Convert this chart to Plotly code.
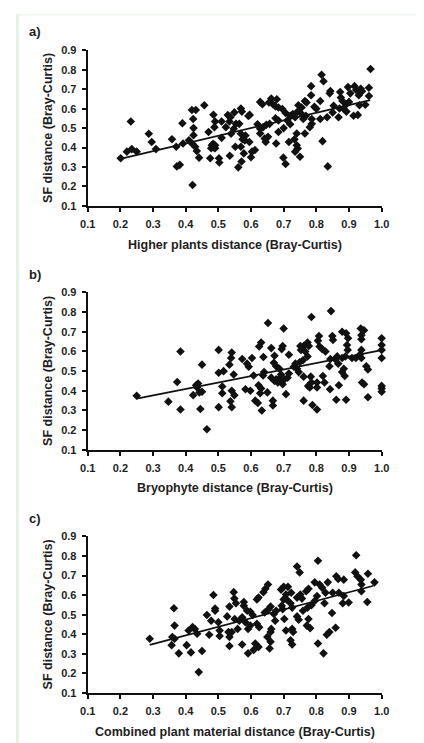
import plotly.graph_objects as go

# ---------------- data ----------------
x_tick_vals = [0.1, 0.2, 0.3, 0.4, 0.5, 0.6, 0.7, 0.8, 0.9, 1.0]
x_tick_text = ["0.1", "0.2", "0.3", "0.4", "0.5", "0.6", "0.7", "0.8", "0.9", "1.0"]
y_tick_vals = [0.1, 0.2, 0.3, 0.4, 0.5, 0.6, 0.7, 0.8, 0.9]
y_tick_text = ["0.1", "0.2", "0.3", "0.4", "0.5", "0.6", "0.7", "0.8", "0.9"]

panel_labels = ["a)", "b)", "c)"]
x_titles = ["Higher plants distance (Bray-Curtis)",
            "Bryophyte distance (Bray-Curtis)",
            "Combined plant material distance (Bray-Curtis)"]
y_title = "SF distance (Bray-Curtis)"

# Panel a: higher plants
a_x = [0.201, 0.220, 0.232, 0.235, 0.250, 0.287, 0.296, 0.309, 0.358, 0.371, 0.373, 0.382, 0.390, 0.392,
       0.410, 0.421, 0.419, 0.431, 0.423, 0.424, 0.424, 0.421, 0.429, 0.434, 0.441, 0.457, 0.470, 0.485,
       0.490, 0.488, 0.475, 0.480, 0.478, 0.490, 0.490, 0.484, 0.486, 0.502, 0.503, 0.510, 0.510, 0.523,
       0.534, 0.529, 0.537, 0.535, 0.539, 0.547, 0.549, 0.554, 0.552, 0.561, 0.569, 0.572, 0.564, 0.569,
       0.574, 0.569, 0.578, 0.571, 0.581, 0.583, 0.595, 0.592, 0.600, 0.612,
       0.966, 0.961, 0.961, 0.816, 0.822, 0.784, 0.843, 0.841, 0.873, 0.897, 0.917, 0.922, 0.936, 0.930,
       0.904, 0.875, 0.784, 0.765, 0.770, 0.812, 0.794, 0.755, 0.745, 0.743, 0.728, 0.720, 0.706, 0.696,
       0.684, 0.679, 0.662, 0.655, 0.628, 0.635, 0.667, 0.675, 0.596, 0.675, 0.684, 0.711, 0.735, 0.755,
       0.768, 0.786, 0.812, 0.833, 0.853, 0.871, 0.883, 0.892, 0.900, 0.914, 0.927, 0.932, 0.868, 0.892,
       0.628, 0.637, 0.647, 0.657, 0.628, 0.642, 0.645, 0.652, 0.677, 0.684, 0.699, 0.706, 0.716, 0.733,
       0.740, 0.740, 0.743, 0.750, 0.735, 0.765, 0.780, 0.786, 0.819, 0.835, 0.603,
       0.760, 0.620, 0.700, 0.720, 0.800, 0.850, 0.880, 0.950, 0.940]
a_y = [0.345, 0.379, 0.534, 0.392, 0.379, 0.471, 0.429, 0.392, 0.443, 0.404, 0.303, 0.311, 0.525, 0.421,
       0.438, 0.207, 0.593, 0.593, 0.547, 0.500, 0.463, 0.418, 0.404, 0.382, 0.348, 0.618, 0.480, 0.569,
       0.534, 0.505, 0.345, 0.412, 0.396, 0.396, 0.412, 0.420, 0.400, 0.345, 0.323, 0.534, 0.450, 0.505,
       0.534, 0.567, 0.556, 0.358, 0.471, 0.497, 0.581, 0.522, 0.404, 0.298, 0.601, 0.585, 0.522, 0.471,
       0.443, 0.404, 0.370, 0.328, 0.437, 0.462, 0.429, 0.563, 0.350, 0.387,
       0.804, 0.708, 0.665, 0.775, 0.741, 0.716, 0.691, 0.679, 0.686, 0.711, 0.716, 0.696, 0.703, 0.669,
       0.679, 0.657, 0.669, 0.640, 0.632, 0.640, 0.610, 0.606, 0.618, 0.585, 0.573, 0.564, 0.578, 0.598,
       0.606, 0.649, 0.652, 0.632, 0.635, 0.623, 0.623, 0.612, 0.568, 0.551, 0.539, 0.539, 0.556, 0.573,
       0.564, 0.547, 0.547, 0.556, 0.615, 0.601, 0.601, 0.623, 0.635, 0.564, 0.568, 0.618, 0.556, 0.585,
       0.497, 0.505, 0.517, 0.522, 0.472, 0.446, 0.429, 0.455, 0.421, 0.480, 0.348, 0.315, 0.429, 0.443,
       0.472, 0.412, 0.395, 0.353, 0.379, 0.472, 0.505, 0.522, 0.433, 0.303, 0.379,
       0.547, 0.520, 0.500, 0.520, 0.600, 0.580, 0.640, 0.620, 0.690]
trend_a_x = [0.200, 0.965]
trend_a_y = [0.342, 0.644]

# Panel b: bryophytes
b_x = [0.250, 0.347, 0.384, 0.374, 0.384, 0.423, 0.432, 0.438, 0.435, 0.442, 0.450, 0.450, 0.445, 0.465,
       0.501, 0.501, 0.516, 0.512, 0.512, 0.501, 0.534, 0.539, 0.541, 0.547, 0.537, 0.541, 0.541, 0.549,
       0.845, 0.785, 0.652, 0.700, 0.936, 0.946, 0.938, 0.938, 1.000, 1.000, 1.000, 1.000, 1.000, 1.000,
       1.000, 0.879, 0.891, 0.897, 0.894, 0.896, 0.849, 0.851, 0.808, 0.805, 0.810, 0.818, 0.828, 0.773,
       0.777, 0.761, 0.751, 0.753, 0.766, 0.773, 0.759, 0.749, 0.736, 0.731, 0.741, 0.716, 0.697, 0.694,
       0.672, 0.662, 0.631, 0.625, 0.638, 0.603, 0.573, 0.588, 0.593, 0.583, 0.598, 0.608, 0.640, 0.637,
       0.623, 0.631, 0.628, 0.650, 0.613, 0.621, 0.633, 0.667, 0.667, 0.670, 0.677, 0.687, 0.662, 0.672,
       0.677, 0.682, 0.687, 0.692, 0.697, 0.702, 0.712, 0.716, 0.707, 0.692, 0.746, 0.761, 0.783, 0.785,
       0.775, 0.780, 0.761, 0.788, 0.802, 0.802, 0.802, 0.820, 0.825, 0.842, 0.857, 0.864, 0.867, 0.869,
       0.879, 0.884, 0.887, 0.861, 0.891, 0.879, 0.889, 0.843, 0.840, 0.938, 0.938, 0.940, 0.946, 0.953,
       0.958, 0.958, 0.909, 0.921, 0.933]
b_y = [0.375, 0.345, 0.600, 0.445, 0.305, 0.378, 0.428, 0.437, 0.417, 0.392, 0.395, 0.533, 0.308, 0.205,
       0.608, 0.492, 0.500, 0.422, 0.388, 0.317, 0.533, 0.567, 0.595, 0.483, 0.347, 0.317, 0.400, 0.378,
       0.805, 0.775, 0.745, 0.717, 0.717, 0.708, 0.683, 0.662, 0.667, 0.633, 0.608, 0.567, 0.425, 0.412,
       0.395, 0.700, 0.692, 0.667, 0.633, 0.608, 0.678, 0.658, 0.678, 0.655, 0.625, 0.612, 0.600, 0.645,
       0.628, 0.628, 0.628, 0.608, 0.600, 0.575, 0.555, 0.545, 0.538, 0.522, 0.512, 0.583, 0.628, 0.612,
       0.578, 0.617, 0.645, 0.625, 0.572, 0.567, 0.562, 0.538, 0.522, 0.408, 0.400, 0.478, 0.495, 0.478,
       0.428, 0.412, 0.388, 0.392, 0.350, 0.338, 0.300, 0.350, 0.325, 0.542, 0.525, 0.512, 0.467, 0.450,
       0.458, 0.442, 0.462, 0.450, 0.433, 0.458, 0.467, 0.488, 0.383, 0.483, 0.495, 0.472, 0.472, 0.442,
       0.425, 0.417, 0.350, 0.328, 0.305, 0.442, 0.417, 0.475, 0.442, 0.408, 0.562, 0.575, 0.538, 0.428,
       0.495, 0.512, 0.475, 0.355, 0.355, 0.567, 0.575, 0.562, 0.525, 0.608, 0.567, 0.442, 0.433, 0.525,
       0.508, 0.367, 0.567, 0.567, 0.583]
trend_b_x = [0.250, 1.000]
trend_b_y = [0.360, 0.607]

# Panel c: combined plant material
c_x = [0.290, 0.357, 0.364, 0.366, 0.359, 0.366, 0.379, 0.403, 0.409, 0.416, 0.421, 0.428, 0.435, 0.440,
       0.450, 0.465, 0.472, 0.478, 0.485, 0.490, 0.490, 0.500, 0.504, 0.504, 0.527, 0.534, 0.531, 0.534,
       0.534, 0.541, 0.547, 0.549, 0.550, 0.554,
       0.922, 0.805, 0.741, 0.749, 0.919, 0.926, 0.958, 0.978, 0.936, 0.938, 0.938, 0.956, 0.861, 0.867,
       0.884, 0.835, 0.818, 0.795, 0.810, 0.776, 0.769, 0.751, 0.741, 0.756, 0.723, 0.713, 0.700, 0.692,
       0.707, 0.709, 0.700, 0.694, 0.697, 0.721, 0.726, 0.652, 0.644, 0.638, 0.623, 0.618, 0.578, 0.578,
       0.588, 0.598, 0.605, 0.573, 0.564, 0.583, 0.598, 0.591, 0.618, 0.625, 0.642, 0.654, 0.660, 0.670,
       0.674, 0.677, 0.662, 0.660, 0.650, 0.660, 0.657, 0.613, 0.623, 0.608, 0.591, 0.573, 0.707, 0.726,
       0.729, 0.721, 0.726, 0.741, 0.746, 0.759, 0.773, 0.776, 0.771, 0.781, 0.785, 0.795, 0.802, 0.828,
       0.825, 0.850, 0.869, 0.884, 0.881, 0.899, 0.848, 0.840, 0.832, 0.859, 0.805, 0.822, 0.702, 0.559]
c_y = [0.377, 0.344, 0.533, 0.444, 0.386, 0.377, 0.302, 0.344, 0.419, 0.307, 0.436, 0.427, 0.402, 0.206,
       0.314, 0.498, 0.397, 0.469, 0.600, 0.531, 0.520, 0.461, 0.419, 0.391, 0.491, 0.541, 0.411, 0.386,
       0.340, 0.411, 0.615, 0.582, 0.478, 0.558,
       0.804, 0.776, 0.746, 0.716, 0.716, 0.696, 0.709, 0.665, 0.679, 0.654, 0.620, 0.565, 0.696, 0.682,
       0.679, 0.665, 0.637, 0.665, 0.654, 0.632, 0.620, 0.603, 0.587, 0.582, 0.612, 0.642, 0.642, 0.628,
       0.603, 0.578, 0.578, 0.545, 0.528, 0.558, 0.536, 0.654, 0.632, 0.615, 0.587, 0.578, 0.565, 0.545,
       0.520, 0.515, 0.498, 0.486, 0.469, 0.461, 0.444, 0.427, 0.453, 0.436, 0.511, 0.528, 0.541, 0.503,
       0.469, 0.520, 0.427, 0.411, 0.386, 0.361, 0.327, 0.352, 0.335, 0.319, 0.302, 0.347, 0.419, 0.427,
       0.411, 0.369, 0.347, 0.491, 0.474, 0.520, 0.536, 0.478, 0.444, 0.431, 0.548, 0.570, 0.595, 0.612,
       0.558, 0.612, 0.612, 0.595, 0.558, 0.562, 0.508, 0.411, 0.397, 0.433, 0.352, 0.302, 0.478, 0.427]
trend_c_x = [0.290, 0.975]
trend_c_y = [0.345, 0.648]

# ---------------- figure ----------------
W, H = 424, 743
INK = "#111111"
TXT = "#1e1e1e"
FONT = "Liberation Sans, Arial, sans-serif"

panels = [
    (a_x, a_y, trend_a_x, trend_a_y, (37, 195), 18, 235),
    (b_x, b_y, trend_b_x, trend_b_y, (283, 443), 265, 482),
    (c_x, c_y, trend_c_x, trend_c_y, (531, 690), 513, 730),
]
x_px = (74.5, 380.0)

fig = go.Figure()
annotations = []
layout = {}
for i, (px, py, tx, ty, (ytop, ybot), lab_y, xt_y) in enumerate(panels):
    n = "" if i == 0 else str(i + 1)
    xa, ya = "x" + n, "y" + n
    fig.add_trace(go.Scatter(x=px, y=py, mode="markers", xaxis=xa, yaxis=ya,
                             marker=dict(symbol="diamond", size=6.6, color=INK,
                                         line=dict(width=0)),
                             cliponaxis=False, showlegend=False, hoverinfo="skip"))
    fig.add_trace(go.Scatter(x=tx, y=ty, mode="lines", xaxis=xa, yaxis=ya,
                             line=dict(color=INK, width=1.7),
                             showlegend=False, hoverinfo="skip"))
    common = dict(showline=True, linewidth=2, linecolor=INK, ticks="outside", ticklen=4,
                  tickwidth=1.5, tickcolor=INK, showgrid=False, zeroline=False,
                  tickfont=dict(family=FONT, size=11, color=TXT, weight="bold"))
    layout["xaxis" + n] = dict(common, domain=[x_px[0] / W, x_px[1] / W], range=[0.1, 1.0],
                               tickvals=x_tick_vals, ticktext=x_tick_text, anchor=ya,
                               ticklabelstandoff=3)
    layout["yaxis" + n] = dict(common, domain=[1 - ybot / H, 1 - ytop / H], range=[0.1, 0.9],
                               tickvals=y_tick_vals, ticktext=y_tick_text, anchor=xa,
                               ticklabelstandoff=3)
    annotations.append(dict(text=panel_labels[i], x=11 / W, y=1 - lab_y / H, xref="paper", yref="paper",
                            xanchor="left", yanchor="middle", showarrow=False,
                            font=dict(family=FONT, size=13, color=TXT, weight="bold")))
    annotations.append(dict(text=x_titles[i], x=(x_px[0] + x_px[1]) / 2 / W, y=1 - xt_y / H,
                            xref="paper", yref="paper", xanchor="center", yanchor="middle",
                            showarrow=False,
                            font=dict(family=FONT, size=12.5, color=TXT, weight="bold")))
    annotations.append(dict(text=y_title, x=33 / W, y=1 - (ytop + ybot) / 2 / H, textangle=-90,
                            xref="paper", yref="paper", xanchor="center", yanchor="middle",
                            showarrow=False,
                            font=dict(family=FONT, size=12.5, color=TXT, weight="bold")))

fig.update_layout(**layout)
fig.update_layout(
    width=W, height=H, margin=dict(l=0, r=0, t=0, b=0),
    paper_bgcolor="white", plot_bgcolor="white",
    annotations=annotations,
    shapes=[dict(type="rect", xref="paper", yref="paper", x0=0, x1=3 / W, y0=0, y1=1,
                 fillcolor="#e4f2e4", line=dict(width=0), layer="below"),
            dict(type="rect", xref="paper", yref="paper", x0=0, x1=1, y0=1 - 1.5 / H, y1=1,
                 fillcolor="#eef6ee", line=dict(width=0), layer="below")],
)
fig.write_html("out.html")
